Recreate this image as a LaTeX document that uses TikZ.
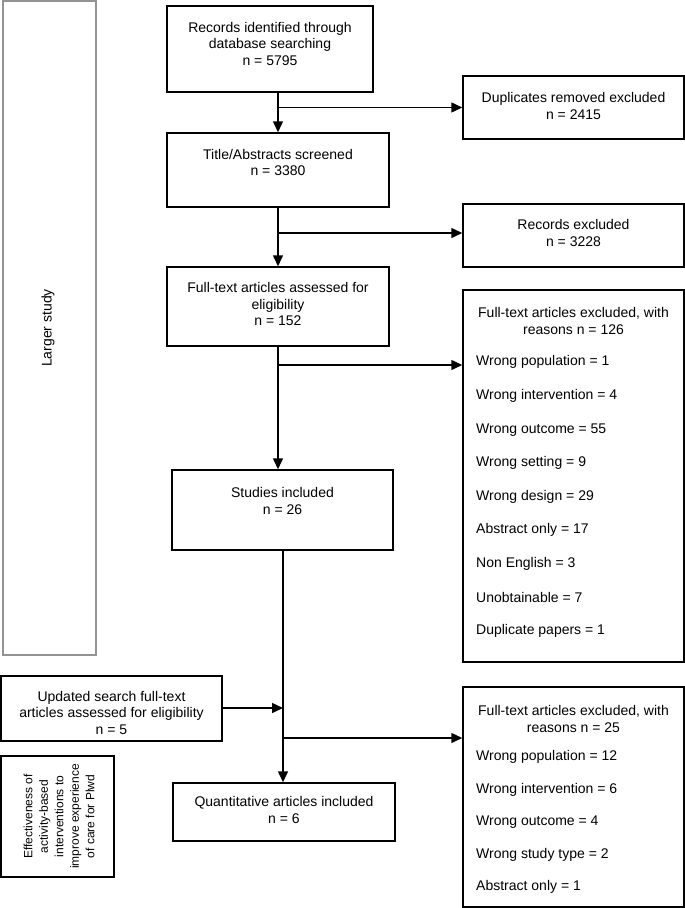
\documentclass[tikz,border=0pt]{standalone}
\usepackage{fontspec}
\setmainfont{Liberation Sans}
\usetikzlibrary{arrows.meta}
\begin{document}
\begin{tikzpicture}[x=1pt,y=-1pt,
  box/.style={draw=black,line width=1.5pt,inner sep=0pt,fill=white},
  greybox/.style={draw=gray!85,line width=1.1pt,inner sep=0pt},
  txt/.style={align=center,inner sep=0pt,font=\fontsize{14}{16.5}\selectfont},
  smalltxt/.style={align=center,inner sep=0pt,font=\fontsize{12}{15.5}\selectfont},
  item/.style={anchor=west,inner sep=0pt,font=\fontsize{14}{16.5}\selectfont},
  arr/.style={line width=1.5pt,-{Triangle[length=11pt,width=10pt]}}]
\useasboundingbox (0,0) rectangle (685,908);

% side boxes
\node[greybox,minimum width=93,minimum height=654] (larger) at (49.5,328) {};
\node[txt,rotate=90] (largertxt) at (48,328) {Larger study};

\node[box,minimum width=113,minimum height=121] (eff) at (57.5,816.5) {};
\node[smalltxt,rotate=90] (efftxt) at (59,816.5) {Effectiveness of\\activity-based\\interventions to\\improve experience\\of care for Plwd};

% main column
\node[box,minimum width=206,minimum height=86] (b1) at (270,49) {};
\node[txt] (t1) at (270,43.5) {Records identified through\\database searching\\n = 5795};

\node[box,minimum width=222,minimum height=74] (b2) at (278,170) {};
\node[txt] (t2) at (278,162.5) {Title/Abstracts screened\\n = 3380};

\node[box,minimum width=222,minimum height=79] (b3) at (278,306.5) {};
\node[txt] (t3) at (278,304) {Full-text articles assessed for\\eligibility\\n = 152};

\node[box,minimum width=221,minimum height=80] (b4) at (282.5,510) {};
\node[txt] (t4) at (282.5,501) {Studies included\\n = 26};

\node[box,minimum width=221,minimum height=65] (b0) at (111.5,708.5) {};
\node[txt] (t0) at (111.5,712.5) {Updated search full-text\\articles assessed for eligibility\\n = 5};

\node[box,minimum width=222,minimum height=58] (b5) at (284,812) {};
\node[txt] (t5) at (284,810) {Quantitative articles included\\n = 6};

% right column
\node[box,minimum width=221,minimum height=63] (r1) at (573.5,107.5) {};
\node[txt] (rt1) at (573.5,106) {Duplicates removed excluded\\n = 2415};

\node[box,minimum width=221,minimum height=63] (r2) at (573.5,235.5) {};
\node[txt] (rt2) at (573.5,233) {Records excluded\\n = 3228};

\node[box,minimum width=221,minimum height=372] (r3) at (573.5,476) {};
\node[txt] (rt3) at (573.5,321) {Full-text articles excluded, with\\reasons n = 126};
\node[item] (i1) at (476,362) {Wrong population = 1};
\node[item] (i2) at (476,396) {Wrong intervention = 4};
\node[item] (i3) at (476,430) {Wrong outcome = 55};
\node[item] (i4) at (476,463) {Wrong setting = 9};
\node[item] (i5) at (476,497) {Wrong design = 29};
\node[item] (i6) at (476,530) {Abstract only = 17};
\node[item] (i7) at (476,564) {Non English = 3};
\node[item] (i8) at (476,597) {Unobtainable = 7};
\node[item] (i9) at (476,631) {Duplicate papers = 1};

\node[box,minimum width=221,minimum height=220] (r4) at (573.5,797) {};
\node[txt] (rt4) at (573.5,719) {Full-text articles excluded, with\\reasons n = 25};
\node[item] (j1) at (476,757) {Wrong population = 12};
\node[item] (j2) at (476,790) {Wrong intervention = 6};
\node[item] (j3) at (476,822) {Wrong outcome = 4};
\node[item] (j4) at (476,855) {Wrong study type = 2};
\node[item] (j5) at (476,887) {Abstract only = 1};

% connectors
\coordinate (c1) at (278,107.5);
\coordinate (c2) at (278,233);
\coordinate (c3) at (278,365);
\coordinate (c4) at (283,708);
\coordinate (c5) at (283,738);

\draw[arr] (b1.south -| c1) -- (b2.north -| c1);
\draw[arr] (c1) -- (r1.west |- c1);
\draw[arr] (b2.south -| c2) -- (b3.north -| c2);
\draw[arr] (c2) -- (r2.west |- c2);
\draw[arr] (b3.south -| c3) -- (b4.north -| c3);
\draw[arr] (c3) -- (r3.west |- c3);
\draw[arr] (b4.south -| c4) -- (b5.north -| c4);
\draw[arr] (b0.east |- c4) -- (c4);
\draw[arr] (c5) -- (r4.west |- c5);
\end{tikzpicture}
\end{document}
